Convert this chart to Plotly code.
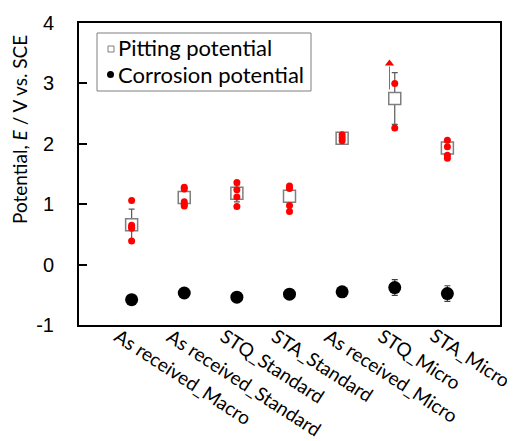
import plotly.graph_objects as go

categories = ["As received_Macro", "As received_Standard", "STQ_Standard", "STA_Standard",
              "As received_Micro", "STQ_Micro", "STA_Micro"]
pitting_mean = [0.66, 1.11, 1.18, 1.13, 2.09, 2.75, 1.93]
pitting_err = [0.26, 0.08, 0.14, 0.08, 0.05, 0.43, 0.06]
pitting_points = [
    [1.06, 0.65, 0.62, 0.60, 0.39],
    [1.28, 1.25, 1.04, 1.00, 0.97],
    [1.36, 1.24, 1.12, 0.96],
    [1.30, 1.26, 0.98, 0.88],
    [2.15, 2.10, 2.05],
    [3.00, 2.26],
    [2.06, 1.95, 1.81, 1.76],
]
corrosion_mean = [-0.58, -0.47, -0.54, -0.49, -0.45, -0.38, -0.48]
corrosion_err = [0.03, 0.03, 0.03, 0.03, 0.03, 0.13, 0.13]
arrow_category = [6]
arrow_from = [2.90]
arrow_to = [3.33]
y_ticks = [-1, 0, 1, 2, 3, 4]
y_tick_labels = ["-1", "0", "1", "2", "3", "4"]
legend_labels = ["Pitting potential", "Corrosion potential"]

# layout geometry (page pixels); the page body has an 8px default margin
OFF = 8
W, H = 515 - OFF, 441 - OFF
L, R, T, B = 79 - OFF, 15, 23 - OFF, 116
PW, PH = W - L - R, H - T - B
X_RANGE = [0, 8]


def px_x(p):  # page px -> paper coord
    return (p - OFF - L) / PW


def px_y(p):
    return (H - B - (p - OFF)) / PH


x_pos = list(range(1, len(categories) + 1))

fig = go.Figure()

fig.add_trace(go.Scatter(
    x=x_pos, y=pitting_mean, mode="markers", showlegend=False,
    marker=dict(symbol="square", size=12, color="white", line=dict(color="#7f7f7f", width=1.5)),
    error_y=dict(type="data", array=pitting_err, color="#595959", thickness=1.2, width=3),
))

px_, py_ = [], []
for i, pts in enumerate(pitting_points):
    for v in pts:
        px_.append(x_pos[i])
        py_.append(v)
fig.add_trace(go.Scatter(x=px_, y=py_, mode="markers", showlegend=False,
                         marker=dict(symbol="circle", size=7, color="#ff0000")))

for c, a, b in zip(arrow_category, arrow_from, arrow_to):
    fig.add_trace(go.Scatter(x=[c - 0.1, c - 0.1], y=[a, b - 0.05], mode="lines", showlegend=False,
                             line=dict(color="#c0504d", width=1)))
    fig.add_trace(go.Scatter(x=[c - 0.1], y=[b], mode="markers", showlegend=False,
                             marker=dict(symbol="triangle-up", size=8, color="#ff0000")))

fig.add_trace(go.Scatter(
    x=x_pos, y=corrosion_mean, mode="markers", showlegend=False,
    marker=dict(symbol="circle", size=13, color="black"),
    error_y=dict(type="data", array=corrosion_err, color="#404040", thickness=1.2, width=3),
))

annotations = []
for xp, lab in zip(x_pos, categories):
    annotations.append(dict(
        x=xp - 0.45, y=px_y(321), xref="x", yref="paper", text=lab, showarrow=False,
        textangle=33, xanchor="left", yanchor="top",
        font=dict(family="Lato", size=19, color="black"),
    ))
annotations.append(dict(
    x=px_x(19), y=px_y(130), xref="paper", yref="paper",
    text="Potential, <i>E</i> / V vs. SCE", showarrow=False, textangle=-90,
    xanchor="center", yanchor="middle", font=dict(family="Lato", size=19, color="black"),
))
legend_rows_y = [48, 74]
for lab, ry in zip(legend_labels, legend_rows_y):
    annotations.append(dict(
        x=px_x(116), y=px_y(ry), xref="paper", yref="paper", text=lab, showarrow=False,
        xanchor="left", yanchor="middle", font=dict(family="Lato", size=22, color="black"),
    ))

shapes = [
    dict(type="rect", xref="paper", yref="paper", x0=px_x(97), x1=px_x(311), y0=px_y(33), y1=px_y(91),
         line=dict(color="#7f7f7f", width=1), fillcolor="white", layer="above"),
    dict(type="rect", xref="paper", yref="paper", x0=px_x(108), x1=px_x(114),
         y0=px_y(legend_rows_y[0] + 4), y1=px_y(legend_rows_y[0] - 2),
         line=dict(color="#7f7f7f", width=1), fillcolor="white", layer="above"),
    dict(type="circle", xref="paper", yref="paper", x0=px_x(107), x1=px_x(114),
         y0=px_y(legend_rows_y[1] + 4), y1=px_y(legend_rows_y[1] - 3),
         line=dict(color="black", width=0), fillcolor="black", layer="above"),
]

fig.update_layout(
    width=W, height=H,
    margin=dict(l=L, r=R, t=T, b=B, autoexpand=False),
    paper_bgcolor="white", plot_bgcolor="white",
    font=dict(family="Lato", color="black"),
    showlegend=False,
    annotations=annotations, shapes=shapes,
    xaxis=dict(range=X_RANGE, tickvals=x_pos, showticklabels=False, automargin=False,
               showgrid=False, zeroline=False, showline=True, mirror=True,
               linecolor="black", linewidth=2, ticks=""),
    yaxis=dict(range=[-1, 4], tickvals=y_ticks, ticktext=y_tick_labels,
               showgrid=False, zeroline=False, automargin=False,
               showline=True, mirror=True, linecolor="black", linewidth=2,
               ticks="inside", ticklen=8, tickwidth=1.5, tickcolor="black",
               ticklabelstandoff=19,
               tickfont=dict(family="Liberation Sans", size=20)),
)

fig.write_html("out.html")
